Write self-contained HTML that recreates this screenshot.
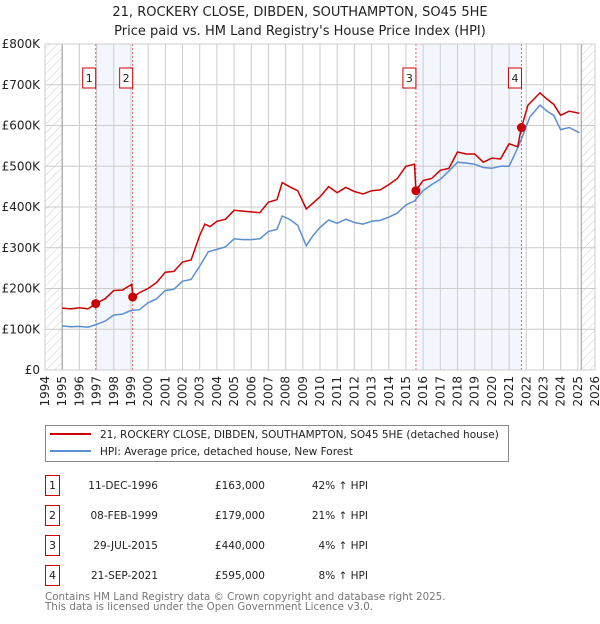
<!DOCTYPE html>
<html><head><meta charset="utf-8">
<style>
body{margin:0;background:#fff;font-family:"DejaVu Sans","Liberation Sans",sans-serif;}
svg text{font-family:"DejaVu Sans","Liberation Sans",sans-serif;}
</style></head>
<body>
<svg id="chart" width="600" height="620" viewBox="0 0 600 620" xmlns="http://www.w3.org/2000/svg">
<defs>
<pattern id="hatch" patternUnits="userSpaceOnUse" width="6" height="6" patternTransform="rotate(45)">
<line x1="0" y1="0" x2="0" y2="6" stroke="#ccc" stroke-width="1"/>
</pattern>
</defs>
<text x="300" y="16" text-anchor="middle" font-size="13" fill="#222">21, ROCKERY CLOSE, DIBDEN, SOUTHAMPTON, SO45 5HE</text>
<text x="300" y="35" text-anchor="middle" font-size="13" fill="#222">Price paid vs. HM Land Registry's House Price Index (HPI)</text>
<g id="plot"></g>
</svg>
<script>
const yearTicks=[1994,1995,1996,1997,1998,1999,2000,2001,2002,2003,2004,2005,2006,2007,2008,2009,2010,2011,2012,2013,2014,2015,2016,2017,2018,2019,2020,2021,2022,2023,2024,2025,2026];
const valueTicks=[0,100,200,300,400,500,600,700,800];
const valueTickLabels=["£0","£100K","£200K","£300K","£400K","£500K","£600K","£700K","£800K"];
const hpiYears=[1995,1995.5,1996,1996.5,1997,1997.5,1998,1998.5,1999,1999.5,2000,2000.5,2001,2001.5,2002,2002.5,2003,2003.5,2004,2004.5,2005,2005.5,2006,2006.5,2007,2007.5,2007.8,2008.3,2008.7,2009.2,2009.6,2010,2010.5,2011,2011.5,2012,2012.5,2013,2013.5,2014,2014.5,2015,2015.5,2016,2016.5,2017,2017.5,2018,2018.5,2019,2019.5,2020,2020.5,2021,2021.5,2021.8,2022.2,2022.8,2023.2,2023.6,2024,2024.5,2025.1];
const hpiValues=[108,106,107,105,112,120,135,137,146,148,165,175,195,198,218,222,255,290,296,302,322,320,320,322,340,345,378,368,355,305,330,350,368,360,370,362,358,365,367,375,385,405,415,440,455,468,488,510,508,505,497,495,500,500,545,575,620,650,635,625,590,595,582];
const priceYears=[1995,1995.5,1996,1996.5,1996.95,1997.5,1998,1998.5,1999.05,1999.12,1999.5,2000,2000.5,2001,2001.5,2002,2002.5,2003,2003.3,2003.6,2004,2004.5,2005,2005.5,2006,2006.5,2007,2007.5,2007.8,2008.3,2008.7,2009.2,2009.6,2010,2010.5,2011,2011.5,2012,2012.5,2013,2013.5,2014,2014.5,2015,2015.5,2015.58,2016,2016.5,2017,2017.5,2018,2018.5,2019,2019.5,2020,2020.5,2021,2021.5,2021.72,2022.1,2022.8,2023.2,2023.6,2024,2024.5,2025.1];
const priceValues=[152,150,153,150,163,175,195,196,210,179,190,200,215,240,242,265,270,330,358,352,365,370,392,390,388,386,412,418,460,448,440,395,410,425,450,435,448,438,432,440,442,455,470,500,505,440,465,470,490,495,535,530,530,510,520,518,555,548,595,650,680,665,652,625,635,630];
const saleYears=[1996.95,1999.1,2015.58,2021.72];
const saleValues=[163,179,440,595];
const saleLabels=["1","2","3","4"];
const saleDates=["11-DEC-1996","08-FEB-1999","29-JUL-2015","21-SEP-2021"];
const salePrices=["£163,000","£179,000","£440,000","£595,000"];
const saleHpi=["42% ↑ HPI","21% ↑ HPI","4% ↑ HPI","8% ↑ HPI"];

const X0=45,X1=595,Y0=370,Y1=44;
const x=y=>X0+(y-1994)/(2026-1994)*(X1-X0);
const yv=v=>Y0-v/800*(Y0-Y1);
const NS="http://www.w3.org/2000/svg";
const g=document.getElementById('plot');
function mk(tag,attrs,parent){const e=document.createElementNS(NS,tag);for(const k in attrs)e.setAttribute(k,attrs[k]);(parent||g).appendChild(e);return e;}

let r;
r=mk('rect',{x:x(saleYears[0]),y:Y1,width:x(saleYears[1])-x(saleYears[0]),height:Y0-Y1,fill:'#f3f6fd'});


r=mk('rect',{x:x(saleYears[2]),y:Y1,width:x(saleYears[3])-x(saleYears[2]),height:Y0-Y1,fill:'#f3f6fd'});


r=mk('rect',{x:X0,y:Y1,width:x(1995)-X0,height:Y0-Y1,fill:'url(#hatch)'});


r=mk('rect',{x:x(2025.2),y:Y1,width:X1-x(2025.2),height:Y0-Y1,fill:'url(#hatch)'});


yearTicks.forEach((yr,i)=>{
  const l=mk('line',{x1:x(yr),x2:x(yr),y1:Y1,y2:Y0,stroke:'#ccc','stroke-width':1});
  
  
  const t=mk('text',{x:0,y:0,transform:`translate(${x(yr)+4},${Y0+6}) rotate(-90)`,'text-anchor':'end','font-size':12,fill:'#222'});
  t.textContent=yr;
  
  
});
valueTicks.forEach((v,i)=>{
  const l=mk('line',{x1:X0,x2:X1,y1:yv(v),y2:yv(v),stroke:'#ccc','stroke-width':1});
  
  
  const t=mk('text',{x:X0-5,y:yv(v)+4,'text-anchor':'end','font-size':12,fill:'#222'});
  t.textContent=valueTickLabels[i];
  
  
});
let l=mk('line',{x1:x(1995),x2:x(1995),y1:Y1,y2:Y0,stroke:'#999'});


l=mk('line',{x1:x(2025.2),x2:x(2025.2),y1:Y1,y2:Y0,stroke:'#999'});


saleYears.forEach((s,i)=>{
  const v=mk('line',{x1:x(s),x2:x(s),y1:Y1,y2:Y0,stroke:'#f06060','stroke-dasharray':'2,2'});
  
  
});
function path(xs,vs){return xs.map((a,i)=>(i?'L':'M')+x(a).toFixed(1)+','+yv(vs[i]).toFixed(1)).join('');}
let p=mk('path',{d:path(hpiYears,hpiValues),fill:'none',stroke:'#5b8fd0','stroke-width':1.5});


p=mk('path',{d:path(priceYears,priceValues),fill:'none',stroke:'#cc0000','stroke-width':1.5});


saleYears.forEach((s,i)=>{
  const c=mk('circle',{cx:x(s),cy:yv(saleValues[i]),r:4.5,fill:'#cc0000'});
  
  
  const b=mk('rect',{x:x(s)-13,y:68,width:13,height:20,fill:'#fff',stroke:'#cc0000'});
  
  
  const t=mk('text',{x:x(s)-6.5,y:82,'text-anchor':'middle','font-size':11,fill:'#222'});
  t.textContent=saleLabels[i];
  
  
});
let fr=mk('rect',{x:X0,y:Y1,width:X1-X0,height:Y0-Y1,fill:'none',stroke:'#ccc'});



const lg=mk('g',{});


mk('rect',{x:45.5,y:425.5,width:463,height:36,fill:'#fff',stroke:'#888'},lg);
mk('line',{x1:50,x2:91,y1:434,y2:434,stroke:'#cc0000','stroke-width':2},lg);
mk('line',{x1:50,x2:91,y1:451,y2:451,stroke:'#5b8fd0','stroke-width':2},lg);
let t=mk('text',{x:100,y:438,'font-size':10.5,fill:'#222'},lg);
t.textContent="21, ROCKERY CLOSE, DIBDEN, SOUTHAMPTON, SO45 5HE (detached house)";


t=mk('text',{x:100,y:455,'font-size':10.5,fill:'#222'},lg);
t.textContent="HPI: Average price, detached house, New Forest";



saleLabels.forEach((lab,i)=>{
  const top=475+i*30;
  const row=mk('g',{});
  
  
  mk('rect',{x:45.5,y:top+0.5,width:14,height:20,fill:'#fff',stroke:'#cc0000'},row);
  let a=mk('text',{x:52.5,y:top+14,'text-anchor':'middle','font-size':11,fill:'#222'},row);a.textContent=lab;
  a=mk('text',{x:158,y:top+14,'text-anchor':'end','font-size':10.5,fill:'#222'},row);a.textContent=saleDates[i];
  
  
  a=mk('text',{x:265,y:top+14,'text-anchor':'end','font-size':10.5,fill:'#222'},row);a.textContent=salePrices[i];
  
  
  a=mk('text',{x:368,y:top+14,'text-anchor':'end','font-size':10.5,fill:'#222'},row);a.textContent=saleHpi[i];
  
  
});
t=mk('text',{x:45,y:600,'font-size':10.3,fill:'#777'});
t.textContent="Contains HM Land Registry data © Crown copyright and database right 2025.";


t=mk('text',{x:45,y:610,'font-size':10.3,fill:'#777'});
t.textContent="This data is licensed under the Open Government Licence v3.0.";


</script>
</body></html>
